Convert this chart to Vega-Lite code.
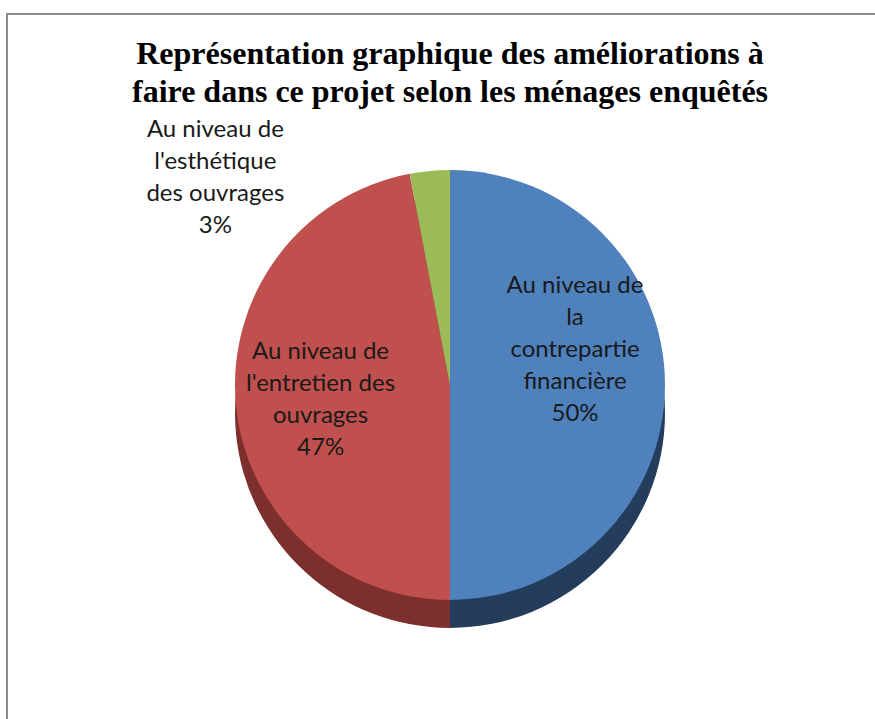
{
  "$schema": "https://vega.github.io/schema/vega-lite/v6.json",
  "width": 886,
  "height": 742,
  "autosize": {"type": "none"},
  "padding": {"left": 7, "top": 14, "right": -18, "bottom": -37},
  "background": "white",
  "view": {"stroke": "#8c8c8c", "strokeWidth": 2, "fill": "white"},
  "title": {
    "text": ["Représentation graphique des améliorations à", "faire dans ce projet selon les ménages enquêtés"],
    "font": "Liberation Serif",
    "fontSize": 32,
    "fontWeight": "bold",
    "color": "#000000",
    "lineHeight": 38,
    "anchor": "middle",
    "frame": "group",
    "baseline": "bottom",
    "offset": -127
  },
  "data": {
    "values": [
      {"cat": "Au niveau de la contrepartie financière", "pct": 50, "ord": 1, "label": ["Au niveau de", "la", "contrepartie", "financière", "50%"]},
      {"cat": "Au niveau de l'entretien des ouvrages", "pct": 47, "ord": 2, "label": ["Au niveau de", "l'entretien des", "ouvrages", "47%"]},
      {"cat": "Au niveau de l'esthétique des ouvrages", "pct": 3, "ord": 3, "label": ["Au niveau de", "l'esthétique", "des ouvrages", "3%"]}
    ]
  },
  "encoding": {
    "theta": {"field": "pct", "type": "quantitative", "stack": true},
    "order": {"field": "ord", "type": "quantitative"}
  },
  "layer": [
    {
      "mark": {"type": "arc", "radius": 215, "yOffset": 28},
      "encoding": {
        "color": {
          "field": "cat", "type": "nominal", "legend": null,
          "scale": {
            "domain": ["Au niveau de la contrepartie financière", "Au niveau de l'entretien des ouvrages", "Au niveau de l'esthétique des ouvrages"],
            "range": ["#253D5C", "#7D2F2D", "#667C3A"]
          }
        }
      }
    },
    {
      "mark": {"type": "arc", "radius": 215},
      "encoding": {
        "color": {
          "field": "cat", "type": "nominal", "legend": null,
          "scale": {
            "domain": ["Au niveau de la contrepartie financière", "Au niveau de l'entretien des ouvrages", "Au niveau de l'esthétique des ouvrages"],
            "range": ["#4F81BD", "#C0504D", "#9BBB59"]
          }
        }
      }
    },
    {
      "mark": {"type": "text", "radius": 125, "dy": -99, "font": "Lato", "fontSize": 24, "lineHeight": 32, "color": "#1a1a1a", "align": "center", "baseline": "middle"},
      "encoding": {
        "text": {"condition": {"test": "datum.ord != 1", "value": ""}, "field": "label"}
      }
    },
    {
      "mark": {"type": "text", "radius": 130, "dy": -45, "font": "Lato", "fontSize": 24, "lineHeight": 32, "color": "#1a1a1a", "align": "center", "baseline": "middle"},
      "encoding": {
        "text": {"condition": {"test": "datum.ord != 2", "value": ""}, "field": "label"}
      }
    },
    {
      "mark": {"type": "text", "radius": 230, "dx": -213, "dy": -26, "font": "Lato", "fontSize": 24, "lineHeight": 32, "color": "#1a1a1a", "align": "center", "baseline": "middle"},
      "encoding": {
        "text": {"condition": {"test": "datum.ord != 3", "value": ""}, "field": "label"}
      }
    }
  ],
  "resolve": {"scale": {"color": "independent"}}
}
